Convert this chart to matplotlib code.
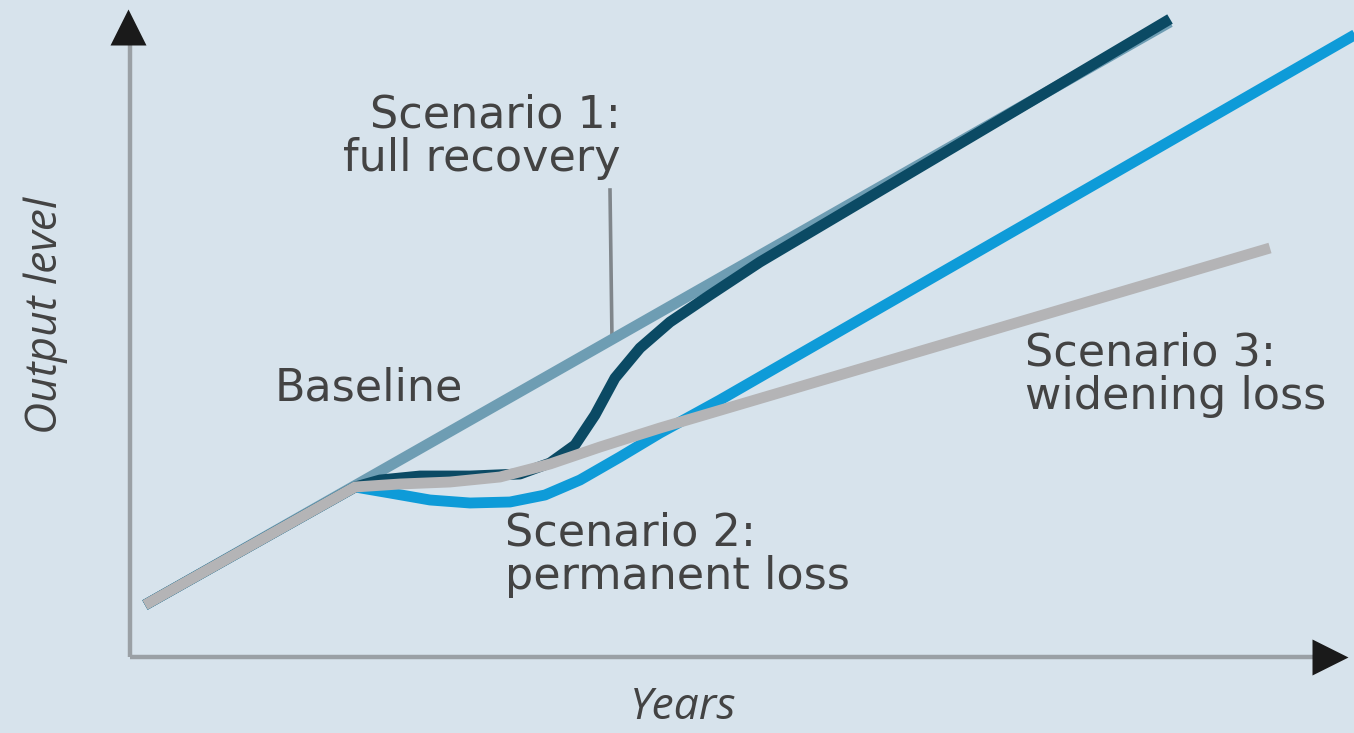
import numpy as np
import matplotlib
matplotlib.use("Agg")
import matplotlib.pyplot as plt

# =========================================================
# Data (x = years, y = output level, arbitrary units)
# =========================================================
BASE_X = [0.15, 10.40]
BASE_Y = [0.52, 6.35]

S1_X = [0.15, 2.25, 2.50, 2.90, 3.40, 3.90, 4.20, 4.45, 4.65, 4.85, 5.10, 5.40, 5.80, 6.30, 10.40]
S1_Y = [0.52, 1.70, 1.77, 1.81, 1.81, 1.83, 1.94, 2.12, 2.42, 2.79, 3.09, 3.35, 3.62, 3.95, 6.38]

S2_X = [0.15, 2.25, 2.60, 3.00, 3.40, 3.80, 4.15, 4.50, 4.90, 5.30, 5.90, 12.40]
S2_Y = [0.52, 1.70, 1.64, 1.57, 1.54, 1.55, 1.62, 1.77, 2.00, 2.24, 2.57, 6.31]

S3_X = [0.15, 2.25, 2.70, 3.20, 3.70, 4.20, 4.70, 5.30, 11.40]
S3_Y = [0.52, 1.70, 1.73, 1.75, 1.80, 1.93, 2.10, 2.29, 4.09]

COL_BG = "#d7e3ec"
COL_BASE = "#6e9db3"
COL_S1 = "#0b4a64"
COL_S2 = "#0e9bd8"
COL_S3 = "#b4b4b6"
COL_TEXT = "#434343"
COL_AXIS = "#9aa0a5"

LW = 7.8
FONT = "DejaVu Sans"


def main():
    fig = plt.figure(figsize=(13.54, 7.33), dpi=100, facecolor=COL_BG)
    ax = fig.add_axes([0, 0, 1, 1])
    ax.set_facecolor(COL_BG)
    ax.set_xlim(-1.30, 12.24)
    ax.set_ylim(-0.76, 6.57)
    ax.axis("off")

    kw = dict(linewidth=LW, solid_capstyle="butt", solid_joinstyle="round")
    ax.plot(BASE_X, BASE_Y, color=COL_BASE, zorder=2, **kw)
    ax.plot(S2_X, S2_Y, color=COL_S2, zorder=3, **kw)
    ax.plot(S1_X, S1_Y, color=COL_S1, zorder=4, **kw)
    ax.plot(S3_X, S3_Y, color=COL_S3, zorder=5, **kw)

    # axes with arrow heads
    ax.plot([0, 0], [0, 6.15], color=COL_AXIS, lw=3.2, zorder=1, solid_capstyle="butt")
    ax.plot([0, 11.85], [0, 0], color=COL_AXIS, lw=3.2, zorder=1, solid_capstyle="butt")
    ax.plot([-0.02], [6.30], marker="^", ms=26, color="#1a1a1a", mec="none", zorder=6)
    ax.plot([12.00], [0.0], marker=">", ms=26, color="#1a1a1a", mec="none", zorder=6)

    # leader line for scenario 1
    ax.plot([4.80, 4.82], [4.67, 3.17], color="#80868b", lw=2.6, zorder=1)

    tkw = dict(color=COL_TEXT, fontsize=32, family=FONT, linespacing=1.0)
    ax.text(4.91, 5.20, "Scenario 1:\nfull recovery", ha="right", va="center", **tkw)
    ax.text(1.45, 2.69, "Baseline", ha="left", va="center", **tkw)
    ax.text(3.75, 1.02, "Scenario 2:\npermanent loss", ha="left", va="center", **tkw)
    ax.text(8.95, 2.82, "Scenario 3:\nwidening loss", ha="left", va="center", **tkw)

    lkw = dict(color=COL_TEXT, fontsize=32, family="Open Sans", style="italic")
    ax.text(-0.84, 3.42, "Output level", rotation=90, ha="center", va="center", **lkw)
    ax.text(5.53, -0.51, "Years", ha="center", va="center", **lkw)

    fig.savefig("out.png", dpi=100, facecolor=COL_BG)
    plt.close(fig)


if __name__ == "__main__":
    main()
